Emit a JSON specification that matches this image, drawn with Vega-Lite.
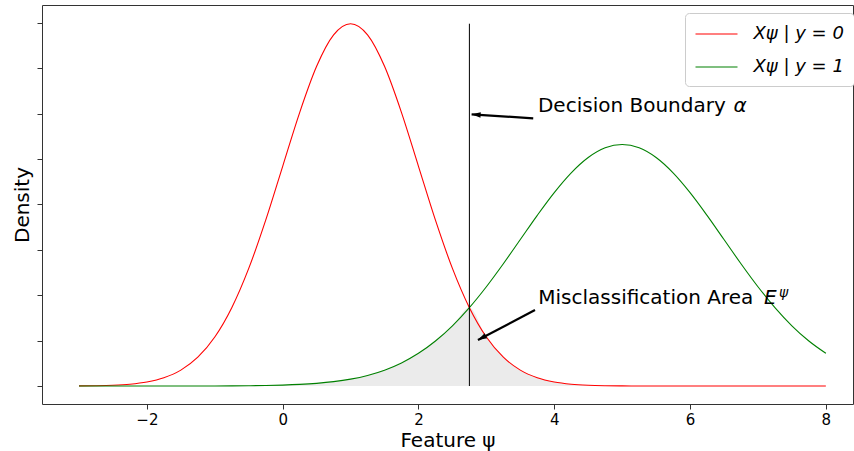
{
  "$schema": "https://vega.github.io/schema/vega-lite/v6.json",
  "width": 811,
  "height": 399,
  "autosize": "none",
  "padding": {"left": 42, "top": 5, "right": 1, "bottom": 47},
  "background": "white",
  "config": {
    "font": "DejaVu Sans",
    "view": {"stroke": "#333", "strokeWidth": 1},
    "axis": {"grid": false, "domain": false, "tickColor": "#333", "tickSize": 5, "labelColor": "black", "titleColor": "black", "labelFont": "DejaVu Sans", "titleFont": "DejaVu Sans", "titleFontWeight": "normal"},
    "legend": {"labelFont": "DejaVu Sans"}
  },
  "datasets": {
    "curves": [
      {"x": -3, "density": 0.000134, "series": "Xψ | y = 0"},
      {"x": -2.75, "density": 0.000353, "series": "Xψ | y = 0"},
      {"x": -2.5, "density": 0.000873, "series": "Xψ | y = 0"},
      {"x": -2.25, "density": 0.002029, "series": "Xψ | y = 0"},
      {"x": -2, "density": 0.004432, "series": "Xψ | y = 0"},
      {"x": -1.75, "density": 0.009094, "series": "Xψ | y = 0"},
      {"x": -1.5, "density": 0.017528, "series": "Xψ | y = 0"},
      {"x": -1.25, "density": 0.03174, "series": "Xψ | y = 0"},
      {"x": -1, "density": 0.053991, "series": "Xψ | y = 0"},
      {"x": -0.75, "density": 0.086277, "series": "Xψ | y = 0"},
      {"x": -0.5, "density": 0.129518, "series": "Xψ | y = 0"},
      {"x": -0.25, "density": 0.182649, "series": "Xψ | y = 0"},
      {"x": 0, "density": 0.241971, "series": "Xψ | y = 0"},
      {"x": 0.25, "density": 0.301137, "series": "Xψ | y = 0"},
      {"x": 0.5, "density": 0.352065, "series": "Xψ | y = 0"},
      {"x": 0.75, "density": 0.386668, "series": "Xψ | y = 0"},
      {"x": 1, "density": 0.398942, "series": "Xψ | y = 0"},
      {"x": 1.25, "density": 0.386668, "series": "Xψ | y = 0"},
      {"x": 1.5, "density": 0.352065, "series": "Xψ | y = 0"},
      {"x": 1.75, "density": 0.301137, "series": "Xψ | y = 0"},
      {"x": 2, "density": 0.241971, "series": "Xψ | y = 0"},
      {"x": 2.25, "density": 0.182649, "series": "Xψ | y = 0"},
      {"x": 2.5, "density": 0.129518, "series": "Xψ | y = 0"},
      {"x": 2.75, "density": 0.086277, "series": "Xψ | y = 0"},
      {"x": 3, "density": 0.053991, "series": "Xψ | y = 0"},
      {"x": 3.25, "density": 0.03174, "series": "Xψ | y = 0"},
      {"x": 3.5, "density": 0.017528, "series": "Xψ | y = 0"},
      {"x": 3.75, "density": 0.009094, "series": "Xψ | y = 0"},
      {"x": 4, "density": 0.004432, "series": "Xψ | y = 0"},
      {"x": 4.25, "density": 0.002029, "series": "Xψ | y = 0"},
      {"x": 4.5, "density": 0.000873, "series": "Xψ | y = 0"},
      {"x": 4.75, "density": 0.000353, "series": "Xψ | y = 0"},
      {"x": 5, "density": 0.000134, "series": "Xψ | y = 0"},
      {"x": 5.25, "density": 0.000048, "series": "Xψ | y = 0"},
      {"x": 5.5, "density": 0.000016, "series": "Xψ | y = 0"},
      {"x": 5.75, "density": 0.000005, "series": "Xψ | y = 0"},
      {"x": 6, "density": 0.000002, "series": "Xψ | y = 0"},
      {"x": 6.25, "density": 0, "series": "Xψ | y = 0"},
      {"x": 6.5, "density": 0, "series": "Xψ | y = 0"},
      {"x": 6.75, "density": 0, "series": "Xψ | y = 0"},
      {"x": 7, "density": 0, "series": "Xψ | y = 0"},
      {"x": 7.25, "density": 0, "series": "Xψ | y = 0"},
      {"x": 7.5, "density": 0, "series": "Xψ | y = 0"},
      {"x": 7.75, "density": 0, "series": "Xψ | y = 0"},
      {"x": 8, "density": 0, "series": "Xψ | y = 0"},
      {"x": -3, "density": 0, "series": "Xψ | y = 1"},
      {"x": -2.75, "density": 0, "series": "Xψ | y = 1"},
      {"x": -2.5, "density": 0.000001, "series": "Xψ | y = 1"},
      {"x": -2.25, "density": 0.000002, "series": "Xψ | y = 1"},
      {"x": -2, "density": 0.000005, "series": "Xψ | y = 1"},
      {"x": -1.75, "density": 0.000011, "series": "Xψ | y = 1"},
      {"x": -1.5, "density": 0.000022, "series": "Xψ | y = 1"},
      {"x": -1.25, "density": 0.000045, "series": "Xψ | y = 1"},
      {"x": -1, "density": 0.000089, "series": "Xψ | y = 1"},
      {"x": -0.75, "density": 0.000172, "series": "Xψ | y = 1"},
      {"x": -0.5, "density": 0.00032, "series": "Xψ | y = 1"},
      {"x": -0.25, "density": 0.000582, "series": "Xψ | y = 1"},
      {"x": 0, "density": 0.001028, "series": "Xψ | y = 1"},
      {"x": 0.25, "density": 0.001767, "series": "Xψ | y = 1"},
      {"x": 0.5, "density": 0.002955, "series": "Xψ | y = 1"},
      {"x": 0.75, "density": 0.004805, "series": "Xψ | y = 1"},
      {"x": 1, "density": 0.007598, "series": "Xψ | y = 1"},
      {"x": 1.25, "density": 0.011686, "series": "Xψ | y = 1"},
      {"x": 1.5, "density": 0.017482, "series": "Xψ | y = 1"},
      {"x": 1.75, "density": 0.025434, "series": "Xψ | y = 1"},
      {"x": 2, "density": 0.035994, "series": "Xψ | y = 1"},
      {"x": 2.25, "density": 0.04954, "series": "Xψ | y = 1"},
      {"x": 2.5, "density": 0.066318, "series": "Xψ | y = 1"},
      {"x": 2.75, "density": 0.086345, "series": "Xψ | y = 1"},
      {"x": 3, "density": 0.10934, "series": "Xψ | y = 1"},
      {"x": 3.25, "density": 0.134665, "series": "Xψ | y = 1"},
      {"x": 3.5, "density": 0.161314, "series": "Xψ | y = 1"},
      {"x": 3.75, "density": 0.187942, "series": "Xψ | y = 1"},
      {"x": 4, "density": 0.212966, "series": "Xψ | y = 1"},
      {"x": 4.25, "density": 0.234711, "series": "Xψ | y = 1"},
      {"x": 4.5, "density": 0.251589, "series": "Xψ | y = 1"},
      {"x": 4.75, "density": 0.262294, "series": "Xψ | y = 1"},
      {"x": 5, "density": 0.265962, "series": "Xψ | y = 1"},
      {"x": 5.25, "density": 0.262294, "series": "Xψ | y = 1"},
      {"x": 5.5, "density": 0.251589, "series": "Xψ | y = 1"},
      {"x": 5.75, "density": 0.234711, "series": "Xψ | y = 1"},
      {"x": 6, "density": 0.212966, "series": "Xψ | y = 1"},
      {"x": 6.25, "density": 0.187942, "series": "Xψ | y = 1"},
      {"x": 6.5, "density": 0.161314, "series": "Xψ | y = 1"},
      {"x": 6.75, "density": 0.134665, "series": "Xψ | y = 1"},
      {"x": 7, "density": 0.10934, "series": "Xψ | y = 1"},
      {"x": 7.25, "density": 0.086345, "series": "Xψ | y = 1"},
      {"x": 7.5, "density": 0.066318, "series": "Xψ | y = 1"},
      {"x": 7.75, "density": 0.04954, "series": "Xψ | y = 1"},
      {"x": 8, "density": 0.035994, "series": "Xψ | y = 1"}
    ],
    "overlap": [
      {"x": -3, "area": 0},
      {"x": -2.75, "area": 0},
      {"x": -2.5, "area": 0.000001},
      {"x": -2.25, "area": 0.000002},
      {"x": -2, "area": 0.000005},
      {"x": -1.75, "area": 0.000011},
      {"x": -1.5, "area": 0.000022},
      {"x": -1.25, "area": 0.000045},
      {"x": -1, "area": 0.000089},
      {"x": -0.75, "area": 0.000172},
      {"x": -0.5, "area": 0.00032},
      {"x": -0.25, "area": 0.000582},
      {"x": 0, "area": 0.001028},
      {"x": 0.25, "area": 0.001767},
      {"x": 0.5, "area": 0.002955},
      {"x": 0.75, "area": 0.004805},
      {"x": 1, "area": 0.007598},
      {"x": 1.25, "area": 0.011686},
      {"x": 1.5, "area": 0.017482},
      {"x": 1.75, "area": 0.025434},
      {"x": 2, "area": 0.035994},
      {"x": 2.25, "area": 0.04954},
      {"x": 2.5, "area": 0.066318},
      {"x": 2.75, "area": 0.086277},
      {"x": 3, "area": 0.053991},
      {"x": 3.25, "area": 0.03174},
      {"x": 3.5, "area": 0.017528},
      {"x": 3.75, "area": 0.009094},
      {"x": 4, "area": 0.004432},
      {"x": 4.25, "area": 0.002029},
      {"x": 4.5, "area": 0.000873},
      {"x": 4.75, "area": 0.000353},
      {"x": 5, "area": 0.000134},
      {"x": 5.25, "area": 0.000048},
      {"x": 5.5, "area": 0.000016},
      {"x": 5.75, "area": 0.000005},
      {"x": 6, "area": 0.000002},
      {"x": 8, "area": 0}
    ],
    "boundary": [{"x": 2.75, "y0": 0, "y1": 0.399}],
    "arrows": [
      {"id": "alpha", "x0": 3.69, "y0": 0.2948, "x1": 2.783, "y1": 0.2992},
      {"id": "error", "x0": 3.716, "y0": 0.0837, "x1": 2.876, "y1": 0.0507}
    ],
    "labels": [
      {"id": "alpha", "x": 3.76, "y": 0.3014, "text": "Decision Boundary"},
      {"id": "error", "x": 3.765, "y": 0.0903, "text": "Misclassification Area"}
    ],
    "mathItalic": [
      {"x": 6.64, "y": 0.3014, "text": "α"},
      {"x": 7.09, "y": 0.0903, "text": "E"}
    ],
    "mathSup": [{"x": 7.31, "y": 0.0985, "text": "ψ"}]
  },
  "layer": [
    {
      "data": {"name": "overlap"},
      "mark": {"type": "area", "color": "#ebebeb", "interpolate": "monotone"},
      "encoding": {
        "x": {"field": "x", "type": "quantitative", "scale": {"domain": [-3.545, 8.4], "nice": false, "zero": false},
          "axis": {"values": [-2, 0, 2, 4, 6, 8], "format": "d", "labelFontSize": 15, "labelPadding": 3, "title": "Feature ψ", "titleFontSize": 20, "titlePadding": 3}},
        "y": {"field": "area", "type": "quantitative", "scale": {"domain": [-0.0198, 0.4196], "nice": false, "zero": false},
          "axis": {"values": [0, 0.05, 0.1, 0.15, 0.2, 0.25, 0.3, 0.35, 0.4], "labels": false, "title": "Density", "titleFontSize": 20, "titlePadding": 4}}
      }
    },
    {
      "data": {"name": "curves"},
      "mark": {"type": "line", "strokeWidth": 1.1, "interpolate": "monotone"},
      "encoding": {
        "x": {"field": "x", "type": "quantitative"},
        "y": {"field": "density", "type": "quantitative"},
        "color": {"field": "series", "type": "nominal",
          "scale": {"domain": ["Xψ | y = 0", "Xψ | y = 1"], "range": ["red", "green"]},
          "legend": {"title": null, "orient": "none", "legendX": 643, "legendY": 8, "padding": 9.5, "strokeColor": "#cccccc", "fillColor": "white", "cornerRadius": 4, "symbolType": "M-1,0H3", "symbolSize": 441, "symbolStrokeWidth": 1.2, "labelFontSize": 18, "labelOffset": 36, "rowPadding": 12, "labelFontStyle": "italic"}}
      }
    },
    {
      "data": {"name": "boundary"},
      "mark": {"type": "rule", "color": "black", "strokeWidth": 1},
      "encoding": {
        "x": {"field": "x", "type": "quantitative"},
        "y": {"field": "y0", "type": "quantitative"},
        "y2": {"field": "y1"}
      }
    },
    {
      "data": {"name": "arrows"},
      "mark": {"type": "rule", "color": "black", "strokeWidth": 2.2},
      "encoding": {
        "x": {"field": "x0", "type": "quantitative"},
        "y": {"field": "y0", "type": "quantitative"},
        "x2": {"field": "x1"},
        "y2": {"field": "y1"}
      }
    },
    {
      "data": {"name": "arrows"},
      "transform": [{"filter": "datum.id === 'alpha'"}],
      "mark": {"type": "point", "filled": true, "color": "black", "opacity": 1, "size": 100, "angle": 273.7, "shape": "M0,0L0.55,1.8L-0.55,1.8Z"},
      "encoding": {
        "x": {"field": "x1", "type": "quantitative"},
        "y": {"field": "y1", "type": "quantitative"}
      }
    },
    {
      "data": {"name": "arrows"},
      "transform": [{"filter": "datum.id === 'error'"}],
      "mark": {"type": "point", "filled": true, "color": "black", "opacity": 1, "size": 100, "angle": 241.8, "shape": "M0,0L0.55,1.8L-0.55,1.8Z"},
      "encoding": {
        "x": {"field": "x1", "type": "quantitative"},
        "y": {"field": "y1", "type": "quantitative"}
      }
    },
    {
      "data": {"name": "labels"},
      "mark": {"type": "text", "align": "left", "baseline": "alphabetic", "fontSize": 20, "color": "black"},
      "encoding": {
        "x": {"field": "x", "type": "quantitative"},
        "y": {"field": "y", "type": "quantitative"},
        "text": {"field": "text"}
      }
    },
    {
      "data": {"name": "mathItalic"},
      "mark": {"type": "text", "align": "left", "baseline": "alphabetic", "fontSize": 20, "fontStyle": "italic", "color": "black"},
      "encoding": {
        "x": {"field": "x", "type": "quantitative"},
        "y": {"field": "y", "type": "quantitative"},
        "text": {"field": "text"}
      }
    },
    {
      "data": {"name": "mathSup"},
      "mark": {"type": "text", "align": "left", "baseline": "alphabetic", "fontSize": 14, "fontStyle": "italic", "color": "black"},
      "encoding": {
        "x": {"field": "x", "type": "quantitative"},
        "y": {"field": "y", "type": "quantitative"},
        "text": {"field": "text"}
      }
    }
  ]
}
